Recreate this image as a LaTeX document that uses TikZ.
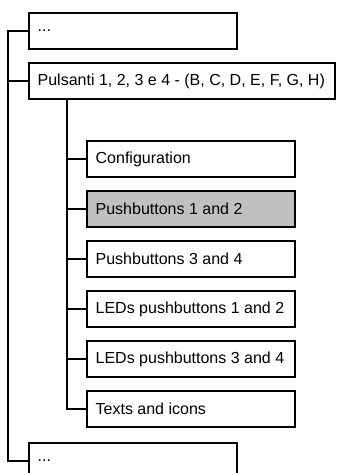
\documentclass[tikz,border=0pt]{standalone}
\usepackage{fontspec}
\setmainfont{Liberation Sans}
\usetikzlibrary{positioning, calc}
\definecolor{selgray}{RGB}{192, 192, 192}
\tikzset{
  menubox/.style={draw, line width=0.9pt, outer sep=0pt, minimum height=27pt, inner xsep=6.5pt, font=\fontsize{12}{14}\selectfont,
    execute at begin node={\hbox to 143pt\bgroup}, execute at end node={\hss\egroup}},
  selbox/.style={menubox, fill=selgray},
  treeline/.style={line width=0.9pt}
}
\begin{document}
\begin{tikzpicture}
    \useasboundingbox (0,0) rectangle (252pt,-354.75pt);
    \node (first) [menubox, anchor=north west] at (21.75pt,-9.75pt) {...};
    \node (puls) [draw, line width=0.9pt, outer sep=0pt, minimum height=27pt, inner xsep=6.5pt, font=\fontsize{12}{14}\selectfont,
        below=10.5pt of first.south west, anchor=north west] {\hbox to 216.5pt{Pulsanti 1, 2, 3 e 4 - (B, C, D, E, F, G, H)\hss}};
    \node (cfg) [menubox, below=31.5pt of puls.south west, xshift=43.5pt, anchor=north west] {Configuration};
    \node (pb12) [selbox, below=10.5pt of cfg] {Pushbuttons 1 and 2};
    \node (pb34) [menubox, below=10.5pt of pb12] {Pushbuttons 3 and 4};
    \node (led12) [menubox, below=10.5pt of pb34] {LEDs pushbuttons 1 and 2};
    \node (led34) [menubox, below=10.5pt of led12] {LEDs pushbuttons 3 and 4};
    \node (txt) [menubox, below=10.5pt of led34] {Texts and icons};
    \node (last) [menubox, below=12pt of txt.south west, xshift=-43.5pt, anchor=north west] {...};

    \coordinate (trunk) at ($(first.west)+(-15.75pt,0)$);
    \coordinate (subtrunk) at ($(cfg.west)+(-15pt,0)$);

    \draw[treeline] (first.west) -- (trunk) |- (last.west);
    \draw[treeline] (puls.west) -- (puls.west -| trunk);
    \draw[treeline] (subtrunk |- puls.south) |- (txt.west);
    \foreach \item in {cfg, pb12, pb34, led12, led34}
        \draw[treeline] (\item.west) -- (\item.west -| subtrunk);
\end{tikzpicture}
\end{document}
